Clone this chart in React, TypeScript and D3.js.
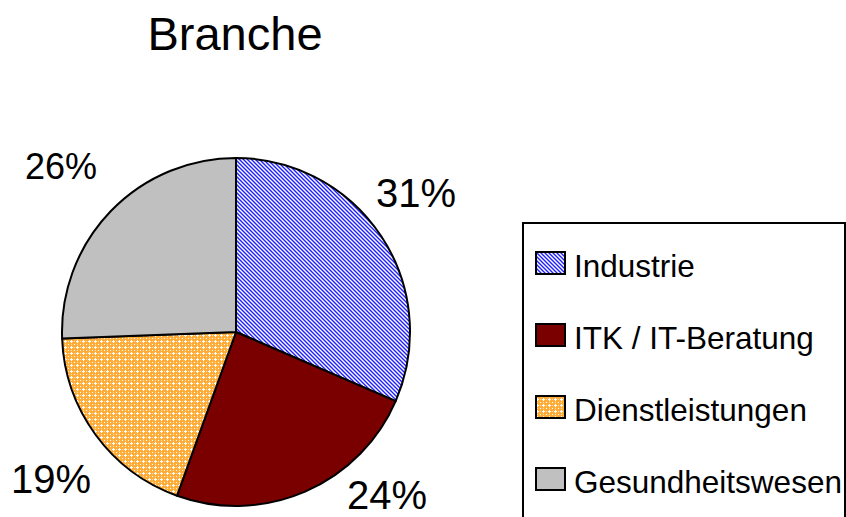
import React from "react";
import * as d3 from "d3";

const categories = ["Industrie", "ITK / IT-Beratung", "Dienstleistungen", "Gesundheitswesen"];
const values = [31.5, 24.0, 18.9, 25.6];
const percentLabels = ["31%", "24%", "19%", "26%"];
const fills = ["url(#pat-industrie)", "#7a0000", "url(#pat-dienst)", "#c0c0c0"];

const W = 846;
const H = 517;
const cx = 236;
const cy = 332;
const R = 174;

// label anchor positions (center x, baseline y) and font sizes
const labelPos: [number, number, number][] = [
  [416, 207, 40],
  [387, 509, 40],
  [51, 493, 40],
  [61, 179, 36],
];

export default function App() {
  const pie = d3.pie<number>().sort(null).value((d) => d);
  const arcs = pie(values);
  const arc = d3.arc<d3.PieArcDatum<number>>().innerRadius(0).outerRadius(R);

  const legendY = d3.scaleBand<string>().domain(categories).range([244, 532]);

  const font = "'Liberation Sans', Arial, sans-serif";

  return (
    <svg
      width={W}
      height={H}
      style={{ position: "absolute", left: 0, top: 0, background: "#fff" }}
    >
      <defs>
        <pattern id="pat-industrie" patternUnits="userSpaceOnUse" width={4} height={4}>
          <rect width={4} height={4} fill="#ffffff" />
          <path d="M-1,-1 L5,5 M-1,3 L1,5 M3,-1 L5,1" stroke="#2020ff" strokeWidth={1.4} />
        </pattern>
        <pattern id="pat-dienst" patternUnits="userSpaceOnUse" width={6} height={6}>
          <rect width={6} height={6} fill="#ffac38" />
          <rect x={2} y={3} width={3} height={1} fill="#ffffff" />
          <rect x={3} y={2} width={1} height={3} fill="#ffffff" />
          <rect x={0} y={0} width={1} height={1} fill="#ffffff" />
          <rect x={0} y={3} width={1} height={1} fill="#ffe0b3" />
          <rect x={3} y={0} width={1} height={1} fill="#ffe0b3" />
        </pattern>
      </defs>
      <text x={235} y={50} textAnchor="middle" fontFamily={font} fontSize={47} fill="#000">
        Branche
      </text>
      <g transform={`translate(${cx},${cy})`}>
        {arcs.map((a, i) => (
          <path key={i} d={arc(a) || ""} fill={fills[i]} stroke="#000" strokeWidth={2} strokeLinejoin="round" />
        ))}
      </g>
      {percentLabels.map((t, i) => (
        <text
          key={t}
          x={labelPos[i][0]}
          y={labelPos[i][1]}
          textAnchor="middle"
          fontFamily={font}
          fontSize={labelPos[i][2]}
          fill="#000"
        >
          {t}
        </text>
      ))}
      <rect x={523} y={223} width={322} height={310} fill="#fff" stroke="#000" strokeWidth={2} />
      {categories.map((c, i) => {
        const y = (legendY(c) as number) + legendY.bandwidth() / 2;
        return (
          <g key={c}>
            <rect x={536} y={y - 28} width={29} height={22} fill={fills[i]} stroke="#000" strokeWidth={2} />
            <text x={574} y={y - 3} fontFamily={font} fontSize={31.5} fill="#000">
              {c}
            </text>
          </g>
        );
      })}
    </svg>
  );
}
